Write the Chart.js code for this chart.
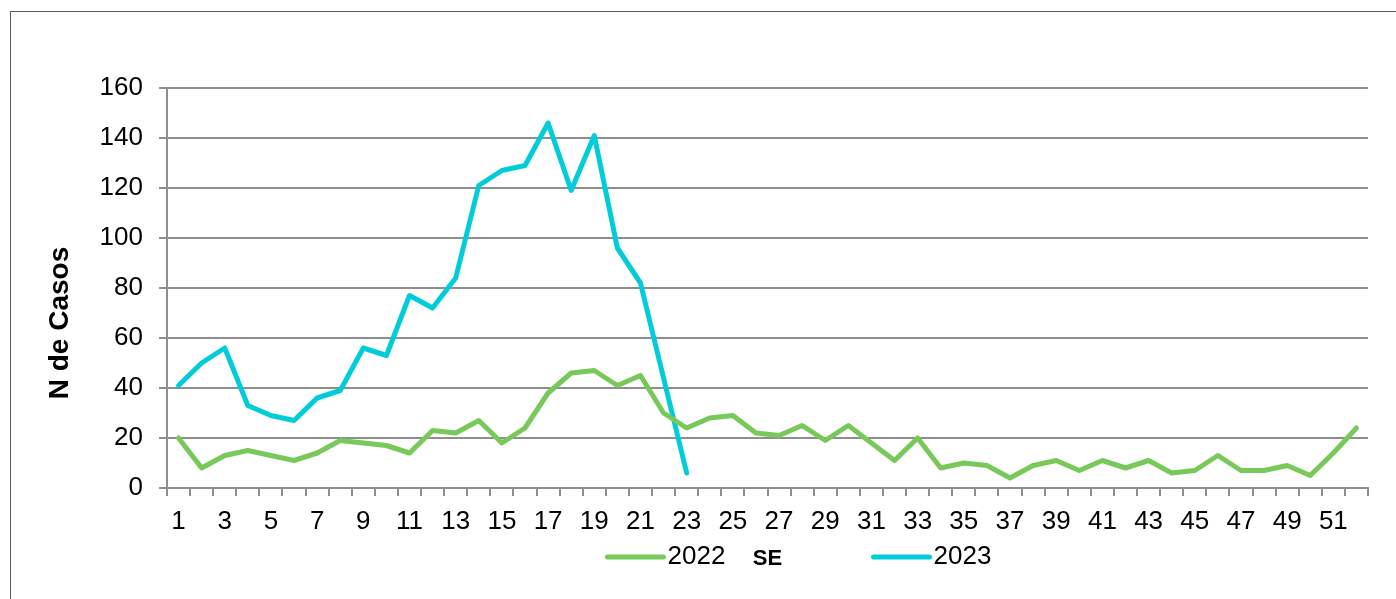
<!DOCTYPE html>
<html>
<head>
<meta charset="utf-8">
<script src="https://cdn.jsdelivr.net/npm/chart.js@4.4.0/dist/chart.umd.min.js"></script>
<style>
    html, body { margin: 0; padding: 0; background: #fff; }
    #wrap { width: 1396px; height: 599px; }
</style>
</head>
<body>
<div id="wrap"><canvas id="casosChart" width="1396" height="599"></canvas></div>
<script>
var semanas = [];
for (var i = 1; i <= 52; i++) { semanas.push(String(i)); }

var casos_2022 = [20, 8, 13, 15, 13, 11, 14, 19, 18, 17,
                  14, 23, 22, 27, 18, 24, 38, 46, 47, 41,
                  45, 30, 24, 28, 29, 22, 21, 25, 19, 25,
                  18, 11, 20, 8, 10, 9, 4, 9, 11, 7,
                  11, 8, 11, 6, 7, 13, 7, 7, 9, 5,
                  14, 24];

var casos_2023 = [41, 50, 56, 33, 29, 27, 36, 39, 56, 53,
                  77, 72, 84, 121, 127, 129, 146, 119, 141, 96,
                  82, 44, 6];

var y_ticks = [0, 20, 40, 60, 80, 100, 120, 140, 160];

var verde = "#78C85A";
var ciano = "#00CDD9";
var cinza = "#8E8E8E";
var fonte = "'Liberation Sans', Arial, sans-serif";

// frame, y title, legend and "SE" drawn on the canvas
var moldura = {
    id: 'moldura',
    beforeDraw: function (chart) {
        var ctx = chart.ctx;
        ctx.save();
        ctx.strokeStyle = "#5a5a5a";
        ctx.lineWidth = 1;
        ctx.strokeRect(10.5, 11.5, 1400, 600);
        ctx.restore();
    },
    afterDraw: function (chart) {
        var ctx = chart.ctx;
        var area = chart.chartArea;
        var cx = (area.left + area.right) / 2;
        var ly = 557;

        // y axis title (Excel puts it a bit below the middle)
        ctx.save();
        ctx.translate(60, area.bottom - 165);
        ctx.rotate(-Math.PI / 2);
        ctx.fillStyle = "#000";
        ctx.font = "bold 28px " + fonte;
        ctx.textAlign = "center";
        ctx.textBaseline = "middle";
        ctx.fillText("N de Casos", 0, 0);
        ctx.restore();

        var items = [
            {x: cx - 160, ds: chart.data.datasets[0]},
            {x: cx + 106, ds: chart.data.datasets[1]}
        ];
        ctx.save();
        items.forEach(function (it) {
            ctx.strokeStyle = it.ds.borderColor;
            ctx.lineWidth = 5;
            ctx.lineCap = "round";
            ctx.beginPath();
            ctx.moveTo(it.x, ly);
            ctx.lineTo(it.x + 56, ly);
            ctx.stroke();
            ctx.fillStyle = "#000";
            ctx.font = "26px " + fonte;
            ctx.textBaseline = "middle";
            ctx.textAlign = "left";
            ctx.fillText(it.ds.label, it.x + 60, ly);
        });
        ctx.font = "bold 22px " + fonte;
        ctx.textAlign = "center";
        ctx.fillText("SE", cx, ly + 2);
        ctx.restore();
    }
};

var ctx = document.getElementById("casosChart").getContext("2d");
var chart = new Chart(ctx, {
    type: 'line',
    data: {
        labels: semanas,
        datasets: [{
            label: "2022",
            data: casos_2022,
            borderColor: verde,
            backgroundColor: verde,
            borderWidth: 5,
            pointRadius: 0,
            tension: 0,
            borderJoinStyle: 'round',
            borderCapStyle: 'round'
        }, {
            label: "2023",
            data: casos_2023,
            borderColor: ciano,
            backgroundColor: ciano,
            borderWidth: 5,
            pointRadius: 0,
            tension: 0,
            borderJoinStyle: 'round',
            borderCapStyle: 'round'
        }]
    },
    options: {
        responsive: false,
        animation: false,
        layout: { padding: { top: 88, right: 28, bottom: 0, left: 0 } },
        plugins: {
            legend: { display: false },
            tooltip: { enabled: false }
        },
        scales: {
            x: {
                offset: true,
                grid: {
                    offset: true,
                    drawOnChartArea: false,
                    drawTicks: true,
                    tickLength: 8,
                    tickColor: cinza,
                    lineWidth: 2
                },
                border: { display: true, color: cinza, width: 2 },
                ticks: {
                    autoSkip: false,
                    maxRotation: 0,
                    padding: 10,
                    color: "#000",
                    font: { family: fonte, size: 26 },
                    callback: function (val, idx) {
                        return idx % 2 === 0 ? semanas[idx] : "";
                    }
                },
                afterFit: function (scale) { scale.height = 111; }
            },
            y: {
                min: 0,
                max: 160,
                afterBuildTicks: function (scale) {
                    scale.ticks = y_ticks.map(function (v) { return {value: v}; });
                },
                grid: {
                    color: cinza,
                    lineWidth: 2,
                    drawTicks: true,
                    tickLength: 8,
                    tickColor: cinza
                },
                border: { display: true, color: cinza, width: 2 },
                ticks: {
                    padding: 16,
                    color: "#000",
                    font: { family: fonte, size: 26 }
                },
                afterFit: function (scale) { scale.width = 167; }
            }
        }
    },
    plugins: [moldura]
});
</script>
</body>
</html>
